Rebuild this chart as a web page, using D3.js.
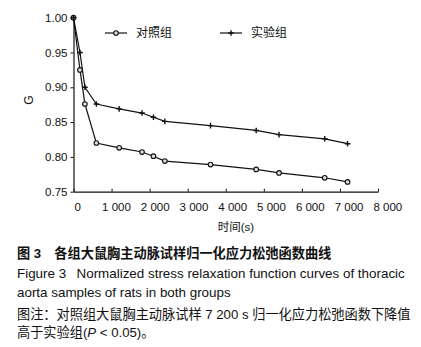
<!DOCTYPE html>
<html>
<head>
<meta charset="utf-8">
<script src="https://cdn.jsdelivr.net/npm/d3@7"></script>
<style>
  body { margin: 0; background: #fff; }
  text { font-family: 'Liberation Sans', Arial, 'Noto Sans CJK SC', sans-serif; fill: #111; }
</style>
</head>
<body>
<div id="chart"></div>
<script>
const times = [0, 170, 300, 600, 1200, 1800, 2100, 2400, 3600, 4800, 5400, 6600, 7200]
const controlG = [1.00, 0.925, 0.876, 0.820, 0.813, 0.807, 0.801, 0.794, 0.789, 0.782, 0.777, 0.770, 0.764]
const expG = [1.00, 0.950, 0.900, 0.876, 0.869, 0.863, 0.857, 0.851, 0.845, 0.838, 0.832, 0.826, 0.819]
const xTicks = [0, 1000, 2000, 3000, 4000, 5000, 6000, 7000, 8000]
const yTicks = [0.75, 0.80, 0.85, 0.90, 0.95, 1.00]
const seriesNames = ['对照组', '实验组']
const captions = [
  '图 3\u3000各组大鼠胸主动脉试样归一化应力松弛函数曲线',
  'Figure 3\u2002 Normalized stress relaxation function curves of thoracic',
  'aorta samples of rats in both groups',
  '图注：对照组大鼠胸主动脉试样 7 200 s 归一化应力松弛函数下降值',
  '高于实验组(P < 0.05)。'
]
const captionY = [257.5, 277.5, 296.5, 318.5, 337]

const width = 421
const height = 347

const svg = d3.select('#chart')
  .append('svg')
  .attr('width', width)
  .attr('height', height)

svg.append('rect').attr('width', width).attr('height', height).attr('fill', '#fff')

// scales
const xScale = d3.scaleLinear().domain([0, 8000]).range([73.5, 378])
const yScale = d3.scaleLinear().domain([0.75, 1.00]).range([191.7, 17.7])
// labels in the original sit a little to the right of their ticks
const labelScale = xScale.copy().range([77.7, 387.8])

const fmt = (d) => d === 0 ? '0' : d3.format(',')(d).replace(',', ' ')

// x axis
const xAxis = svg.append('g')
  .attr('transform', `translate(0, ${yScale(0.75)})`)
  .call(d3.axisBottom(xScale).tickValues(xTicks).tickSizeInner(-3).tickSizeOuter(0).tickFormat(''))
xAxis.select('.domain').attr('stroke', '#111').attr('stroke-width', 1.2)
xAxis.selectAll('.tick line').attr('stroke', '#111').attr('stroke-width', 1)

svg.append('g')
  .selectAll('text')
  .data(xTicks)
  .join('text')
  .attr('x', (d) => labelScale(d))
  .attr('y', 211)
  .attr('text-anchor', 'middle')
  .style('font-size', '11.5px')
  .text(fmt)

// y axis
const yAxis = svg.append('g')
  .attr('transform', `translate(${xScale(0)}, 0)`)
  .call(d3.axisLeft(yScale).tickValues(yTicks).tickSizeInner(3).tickSizeOuter(0).tickPadding(3).tickFormat(d3.format('.2f')))
yAxis.select('.domain').attr('stroke', '#111').attr('stroke-width', 1.2)
yAxis.selectAll('.tick line').attr('stroke', '#111').attr('stroke-width', 1)
yAxis.selectAll('.tick text')
  .style('font-size', '11.5px')
  .style('font-family', "'Liberation Sans', Arial, sans-serif")
  .attr('fill', '#111')

// axis titles
svg.append('text')
  .attr('transform', 'translate(33, 100) rotate(-90)')
  .attr('text-anchor', 'middle')
  .style('font-size', '12px')
  .text('G')

svg.append('text')
  .attr('x', 236)
  .attr('y', 231)
  .attr('text-anchor', 'middle')
  .style('font-size', '11.5px')
  .text('时间(s)')

// data
const lineGenerator = d3.line()
  .x((d) => xScale(d[0]))
  .y((d) => yScale(d[1]))

const controlData = times.map((t, i) => [t, controlG[i]])
const expData = times.map((t, i) => [t, expG[i]])

const drawCircle = (g, x, y) => g.append('circle')
  .attr('cx', x).attr('cy', y).attr('r', 2.3)
  .attr('fill', '#ddd').attr('stroke', '#111').attr('stroke-width', 1.1)

const drawPlus = (g, x, y) => g.append('path')
  .attr('d', `M${x - 2.8},${y}H${x + 2.8}M${x},${y - 2.8}V${y + 2.8}`)
  .attr('stroke', '#111').attr('stroke-width', 1.4)

const marks = svg.append('g')

marks.append('path')
  .attr('d', lineGenerator(controlData))
  .attr('fill', 'none').attr('stroke', '#111').attr('stroke-width', 1.2)
marks.append('path')
  .attr('d', lineGenerator(expData))
  .attr('fill', 'none').attr('stroke', '#111').attr('stroke-width', 1.2)

controlData.forEach((d) => drawCircle(marks, xScale(d[0]), yScale(d[1])))
expData.forEach((d) => drawPlus(marks, xScale(d[0]), yScale(d[1])))

// legend
const legend = svg.append('g')
const legendItems = [
  { name: seriesNames[0], x: 105, y: 33, mark: drawCircle },
  { name: seriesNames[1], x: 220, y: 33, mark: drawPlus }
]
legendItems.forEach((item) => {
  legend.append('line')
    .attr('x1', item.x).attr('x2', item.x + 22)
    .attr('y1', item.y).attr('y2', item.y)
    .attr('stroke', '#111').attr('stroke-width', 1.2)
  item.mark(legend, item.x + 11, item.y)
  legend.append('text')
    .attr('x', item.x + 31)
    .attr('y', item.y + 4)
    .style('font-size', '12px')
    .text(item.name)
})

// caption
const captionG = svg.append('g')
captions.forEach((c, i) => {
  const t = captionG.append('text')
    .attr('x', 17)
    .attr('y', captionY[i])
    .style('font-size', i === 1 || i === 2 ? '13.4px' : '13.2px')
    .style('font-weight', i === 0 ? 'bold' : 'normal')
  if (i === 4) {
    t.append('tspan').text('高于实验组(')
    t.append('tspan').style('font-style', 'italic').text('P')
    t.append('tspan').text(' < 0.05)。')
  } else {
    t.text(c)
  }
})
</script>
</body>
</html>
